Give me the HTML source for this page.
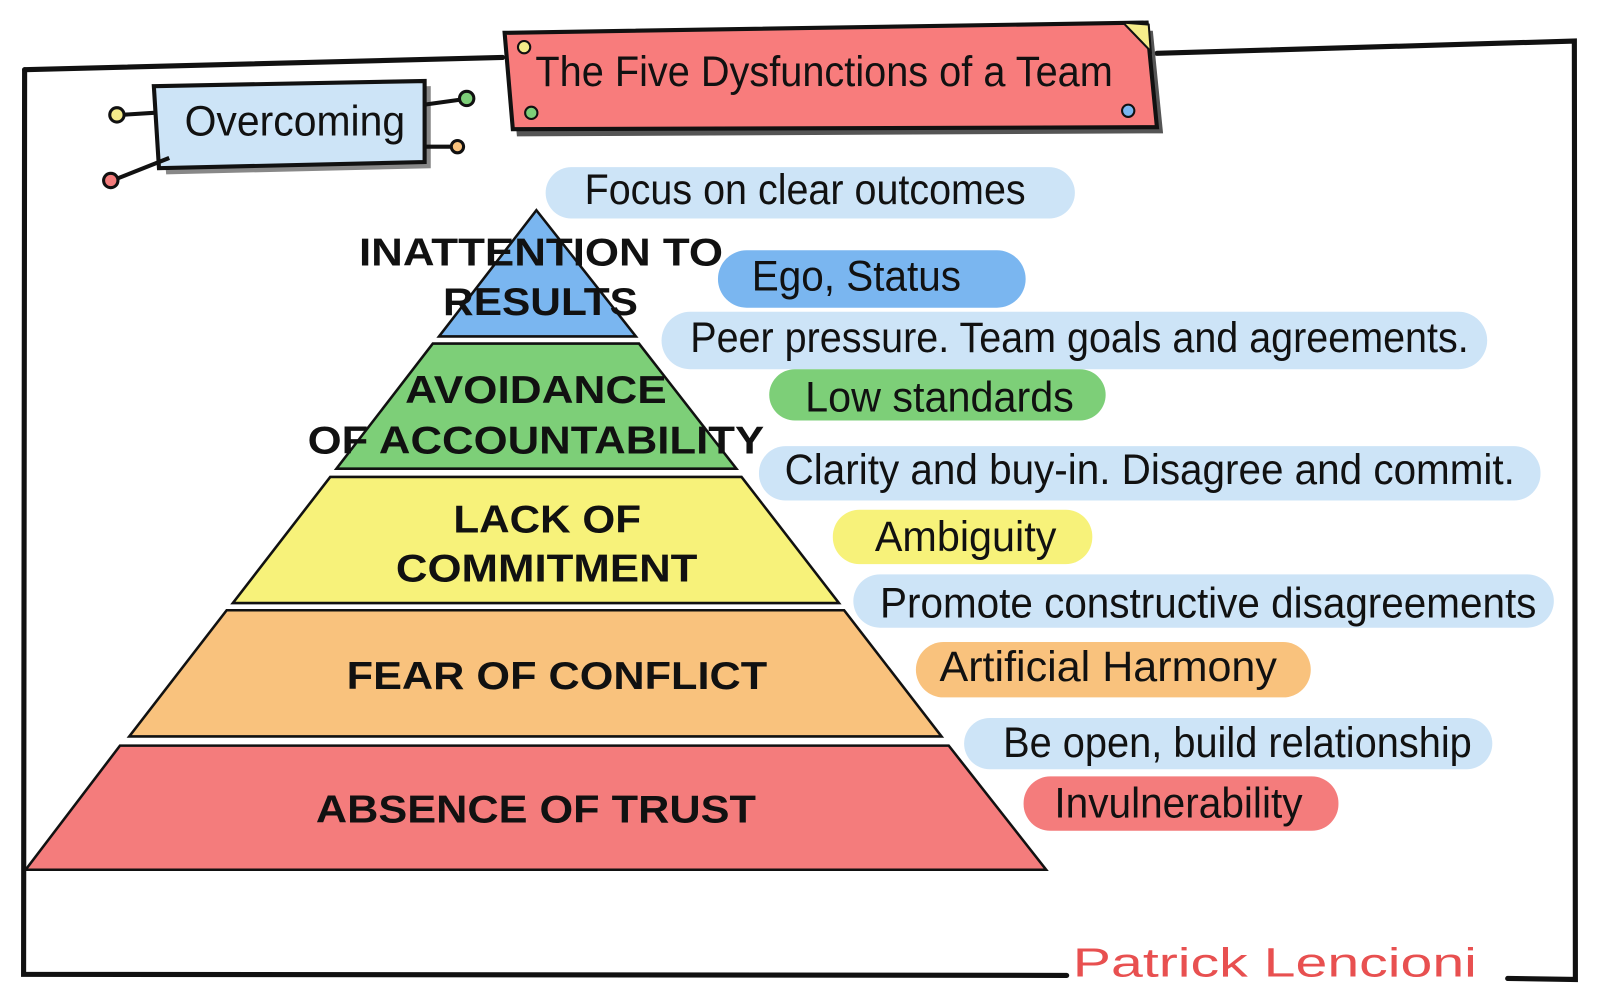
<!DOCTYPE html>
<html><head><meta charset="utf-8">
<style>
html,body{margin:0;padding:0;background:#fff;}
svg{display:block;}
.h{font-family:"Liberation Sans",sans-serif;fill:#111;}
.p{font-family:"Liberation Sans",sans-serif;font-weight:bold;fill:#111;}
</style></head><body>
<svg width="1600" height="1000" viewBox="0 0 1560 975" preserveAspectRatio="none" xmlns="http://www.w3.org/2000/svg">
<g stroke="#111" stroke-width="5" fill="none" stroke-linecap="round">
<path d="M24 68 L490 56"/>
<path d="M1128 52 L1535 40 L1536 955 L1470 954"/>
<path d="M24 68 L23 950 L1040 951"/>
</g>
<polygon points="496,40 1124,30 1134,130 504,133" fill="#555"/>
<polygon points="492,32 1118,22 1128,124 500,126" fill="#f87c7c" stroke="#111" stroke-width="4"/>
<polygon points="1095,22 1120,24 1122,50" fill="#f5ec8a" stroke="#111" stroke-width="2"/>
<circle cx="511" cy="46" r="6" fill="#f5ec8a" stroke="#111" stroke-width="2"/>
<circle cx="518" cy="110" r="6" fill="#7dcf78" stroke="#111" stroke-width="2"/>
<circle cx="1100" cy="108" r="6" fill="#7ab6f0" stroke="#111" stroke-width="2"/>
<text x="522" y="84" class="h" font-size="42" textLength="563" lengthAdjust="spacingAndGlyphs">The Five Dysfunctions of a Team</text>
<polygon points="156,90 420,84 420,164 162,170" fill="#888"/>
<polygon points="150,84 414,79 414,158 155,164" fill="#cde4f7" stroke="#111" stroke-width="4"/>
<g stroke="#111" stroke-width="4" fill="none"><path d="M118 112 L150 110"/><path d="M112 175 L165 154"/><path d="M414 102 L450 97"/><path d="M414 143 L440 143"/></g>
<circle cx="114" cy="112" r="7" fill="#f5ec8a" stroke="#111" stroke-width="3"/>
<circle cx="108" cy="176" r="7" fill="#f47c7c" stroke="#111" stroke-width="3"/>
<circle cx="455" cy="96" r="7" fill="#7dcf78" stroke="#111" stroke-width="3"/>
<circle cx="446" cy="143" r="6" fill="#f9c27d" stroke="#111" stroke-width="3"/>
<text x="180" y="132" class="h" font-size="42" textLength="215" lengthAdjust="spacingAndGlyphs">Overcoming</text>
<g stroke="#111" stroke-width="2.5">
<polygon points="523,205 620,328 428,328" fill="#7ab6f0"/>
<polygon points="422,335 623,335 718,457 328,457" fill="#7dcf78"/>
<polygon points="322,465 723,465 818,588 227,588" fill="#f7f27a"/>
<polygon points="221,595 823,595 918,718 126,718" fill="#f9c27d"/>
<polygon points="117,727 925,727 1020,848 25,848" fill="#f47c7c"/>
</g>
<g class="p" font-size="38" lengthAdjust="spacingAndGlyphs">
<text x="350" y="259" textLength="355" lengthAdjust="spacingAndGlyphs">INATTENTION TO</text>
<text x="432" y="307" textLength="190" lengthAdjust="spacingAndGlyphs">RESULTS</text>
<text x="395" y="393" textLength="255" lengthAdjust="spacingAndGlyphs">AVOIDANCE</text>
<text x="300" y="442" textLength="445" lengthAdjust="spacingAndGlyphs">OF ACCOUNTABILITY</text>
<text x="442" y="519" textLength="183" lengthAdjust="spacingAndGlyphs">LACK OF</text>
<text x="386" y="567" textLength="294" lengthAdjust="spacingAndGlyphs">COMMITMENT</text>
<text x="338" y="672" textLength="410" lengthAdjust="spacingAndGlyphs">FEAR OF CONFLICT</text>
<text x="308" y="802" textLength="429" lengthAdjust="spacingAndGlyphs">ABSENCE OF TRUST</text>
</g>
<g>
<rect x="532" y="163" width="516" height="50" rx="25" fill="#cde4f7"/>
<rect x="700" y="244" width="300" height="56" rx="28" fill="#7ab6f0"/>
<rect x="645" y="304" width="805" height="56" rx="28" fill="#cde4f7"/>
<rect x="750" y="360" width="328" height="50" rx="25" fill="#7dcf78"/>
<rect x="740" y="435" width="762" height="53" rx="26" fill="#cde4f7"/>
<rect x="812" y="497" width="253" height="53" rx="26" fill="#f7f27a"/>
<rect x="832" y="560" width="683" height="52" rx="26" fill="#cde4f7"/>
<rect x="893" y="626" width="385" height="54" rx="27" fill="#f9c27d"/>
<rect x="940" y="700" width="515" height="50" rx="25" fill="#cde4f7"/>
<rect x="998" y="757" width="307" height="53" rx="26" fill="#f47c7c"/>
</g>
<g class="h" font-size="42">
<text x="570" y="199" textLength="430" lengthAdjust="spacingAndGlyphs">Focus on clear outcomes</text>
<text x="733" y="283" textLength="204" lengthAdjust="spacingAndGlyphs">Ego, Status</text>
<text x="673" y="343" textLength="759" lengthAdjust="spacingAndGlyphs">Peer pressure. Team goals and agreements.</text>
<text x="785" y="401" textLength="262" lengthAdjust="spacingAndGlyphs">Low standards</text>
<text x="765" y="472" textLength="712" lengthAdjust="spacingAndGlyphs">Clarity and buy-in. Disagree and commit.</text>
<text x="853" y="537" textLength="177" lengthAdjust="spacingAndGlyphs">Ambiguity</text>
<text x="858" y="602" textLength="640" lengthAdjust="spacingAndGlyphs">Promote constructive disagreements</text>
<text x="916" y="664" textLength="329" lengthAdjust="spacingAndGlyphs">Artificial Harmony</text>
<text x="978" y="738" textLength="457" lengthAdjust="spacingAndGlyphs">Be open, build relationship</text>
<text x="1028" y="797" textLength="242" lengthAdjust="spacingAndGlyphs">Invulnerability</text>
</g>
<text x="1046" y="952" font-family="Liberation Sans, sans-serif" font-size="40" fill="#e85050" textLength="394" lengthAdjust="spacingAndGlyphs">Patrick Lencioni</text>
</svg>
</body></html>
